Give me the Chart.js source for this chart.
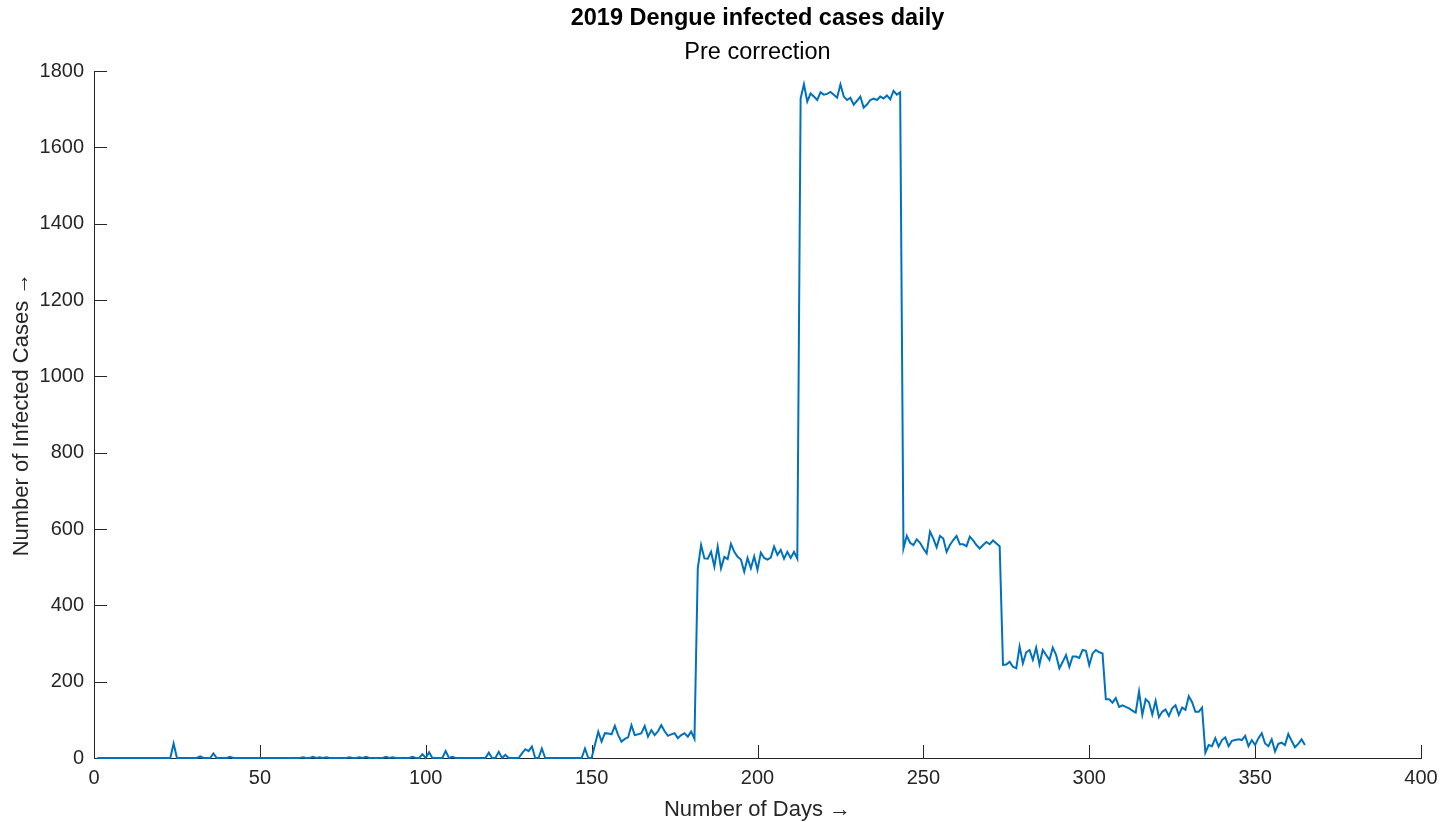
<!DOCTYPE html>
<html>
<head>
<meta charset="utf-8">
<title>2019 Dengue infected cases daily</title>
<script src="https://cdn.jsdelivr.net/npm/chart.js@4/dist/chart.umd.min.js"></script>
<style>
  html, body { margin: 0; padding: 0; background: #ffffff; }
  #wrap { position: relative; width: 1455px; height: 822px; }
</style>
</head>
<body>
<div id="wrap"><canvas id="chart" width="1455" height="822"></canvas></div>
<script>
// Daily reported dengue cases for 2019, one array per month
const jan = [0,0,0,0,0,0,0,0,0,0, 0,0,0,0,0,0,0,0,0,0, 0,0,0,38,0,0,0,0,0,0, 0];
const feb = [4,0,0,0,12,0,0,0,0,3, 0,0,0,0,0,0,0,0,0,0, 0,0,0,0,0,0,0,0];
const mar = [0,0,0,2,0,0,3,0,2,0, 2,0,0,0,0,0,0,2,0,0, 2,0,3,0,0,0,0,0,3,0, 2];
const apr = [0,0,0,0,0,3,0,0,10,0, 15,0,0,0,0,18,0,3,0,0, 0,0,0,0,0,0,0,0,14,0];
const may = [0,16,0,8,0,0,0,0,12,23, 18,30,0,0,25,0,0,0,0,0, 0,0,0,0,0,0,0,25,0,0, 35];
const jun = [69,43,65,64,62,84,60,43,50,54, 86,60,62,65,84,56,73,60,70,86, 70,58,62,65,52,60,65,56,69,50];
const jul = [497,558,523,522,540,501,554,497,527,521, 561,540,527,520,488,524,497,528,493,538, 524,520,525,554,532,545,522,540,524,540, 522];
const aug = [1728,1765,1720,1741,1733,1724,1744,1738,1740,1745, 1738,1730,1765,1733,1724,1730,1712,1722,1733,1704, 1712,1724,1728,1724,1733,1728,1736,1726,1748,1738, 1744];
const sep = [549,582,564,558,573,564,549,536,593,575, 552,582,575,540,558,571,582,560,560,555, 580,570,558,549,558,566,560,570,562,555];
const oct = [244,245,252,239,235,292,248,277,283,257, 289,245,283,270,257,289,270,235,252,270, 239,266,266,262,283,281,243,274,283,277, 274];
const nov = [154,154,145,157,134,138,134,130,124,119, 174,113,154,146,114,150,107,121,127,110, 130,138,113,132,126,162,146,121,121,132];
const dec = [14,34,31,52,30,47,54,31,45,47, 49,47,58,31,47,34,52,65,38,31, 49,17,37,40,34,63,45,28,37,49, 34];

const dailyCases = [].concat(jan, feb, mar, apr, may, jun, jul, aug, sep, oct, nov, dec);
const dayNumbers = dailyCases.map((_, i) => i + 1);

const xTickValues = [0, 50, 100, 150, 200, 250, 300, 350, 400];
const yTickValues = [0, 200, 400, 600, 800, 1000, 1200, 1400, 1600, 1800];

const titleText = '2019 Dengue infected cases daily';
const subtitleText = 'Pre correction';
const xLabel = 'Number of Days \u2192';
const yLabel = 'Number of Infected Cases \u2192';

const AXIS_COLOR = '#262626';
const LINE_COLOR = '#0072bd';
const FONT = '"Liberation Sans", Arial, Helvetica, sans-serif';

// Title and subtitle centred over the plotting area
const axesTitle = {
  id: 'axesTitle',
  afterDraw(chart) {
    const { ctx, chartArea: a } = chart;
    const cx = (a.left + a.right) / 2;
    ctx.save();
    ctx.textAlign = 'center';
    ctx.textBaseline = 'middle';
    ctx.fillStyle = '#000000';
    ctx.font = 'bold 23.5px ' + FONT;
    ctx.fillText(titleText, cx, a.top - 52);
    ctx.font = 'normal 23.5px ' + FONT;
    ctx.fillText(subtitleText, cx, a.top - 18);
    ctx.restore();
  }
};

// Short tick marks pointing into the plot area
const inwardTicks = {
  id: 'inwardTicks',
  beforeDatasetsDraw(chart) {
    const { ctx, chartArea: a, scales: { x, y } } = chart;
    const len = 13;
    ctx.save();
    ctx.strokeStyle = AXIS_COLOR;
    ctx.lineWidth = 1;
    ctx.beginPath();
    x.ticks.forEach(t => {
      const px = Math.round(x.getPixelForValue(t.value)) + 0.5;
      ctx.moveTo(px, a.bottom);
      ctx.lineTo(px, a.bottom - len);
    });
    y.ticks.forEach(t => {
      const py = Math.round(y.getPixelForValue(t.value)) + 0.5;
      ctx.moveTo(a.left, py);
      ctx.lineTo(a.left + len, py);
    });
    ctx.stroke();
    ctx.restore();
  }
};

new Chart(document.getElementById('chart'), {
  type: 'line',
  data: {
    labels: dayNumbers,
    datasets: [{
      data: dayNumbers.map((d, i) => ({ x: d, y: dailyCases[i] })),
      borderColor: LINE_COLOR,
      borderWidth: 2,
      pointRadius: 0,
      tension: 0,
      fill: false,
      clip: false
    }]
  },
  options: {
    responsive: false,
    animation: false,
    devicePixelRatio: 1,
    layout: { padding: { left: 0, right: 34, top: 71, bottom: 0 } },
    plugins: {
      legend: { display: false },
      tooltip: { enabled: false },
      title: { display: false },
      subtitle: { display: false }
    },
    scales: {
      x: {
        type: 'linear',
        min: 0,
        max: 400,
        afterFit(scale) { scale.height = 64; },
        afterBuildTicks(scale) { scale.ticks = xTickValues.map(v => ({ value: v })); },
        grid: { display: false, drawTicks: false },
        border: { display: true, color: AXIS_COLOR, width: 1 },
        ticks: {
          color: AXIS_COLOR,
          padding: 8,
          maxRotation: 0,
          font: { family: FONT, size: 20 },
          callback: v => String(v)
        },
        title: {
          display: true,
          text: xLabel,
          color: AXIS_COLOR,
          font: { family: FONT, size: 22, lineHeight: 1 },
          padding: { top: 0, bottom: 1 }
        }
      },
      y: {
        type: 'linear',
        min: 0,
        max: 1800,
        afterFit(scale) { scale.width = 94; },
        afterBuildTicks(scale) { scale.ticks = yTickValues.map(v => ({ value: v })); },
        grid: { display: false, drawTicks: false },
        border: { display: true, color: AXIS_COLOR, width: 1 },
        ticks: {
          color: AXIS_COLOR,
          padding: 10,
          font: { family: FONT, size: 20 },
          callback: v => String(v)
        },
        title: {
          display: true,
          text: yLabel,
          color: AXIS_COLOR,
          font: { family: FONT, size: 22, lineHeight: 1 },
          padding: { top: 11, bottom: 0 }
        }
      }
    }
  },
  plugins: [inwardTicks, axesTitle]
});
</script>
</body>
</html>
